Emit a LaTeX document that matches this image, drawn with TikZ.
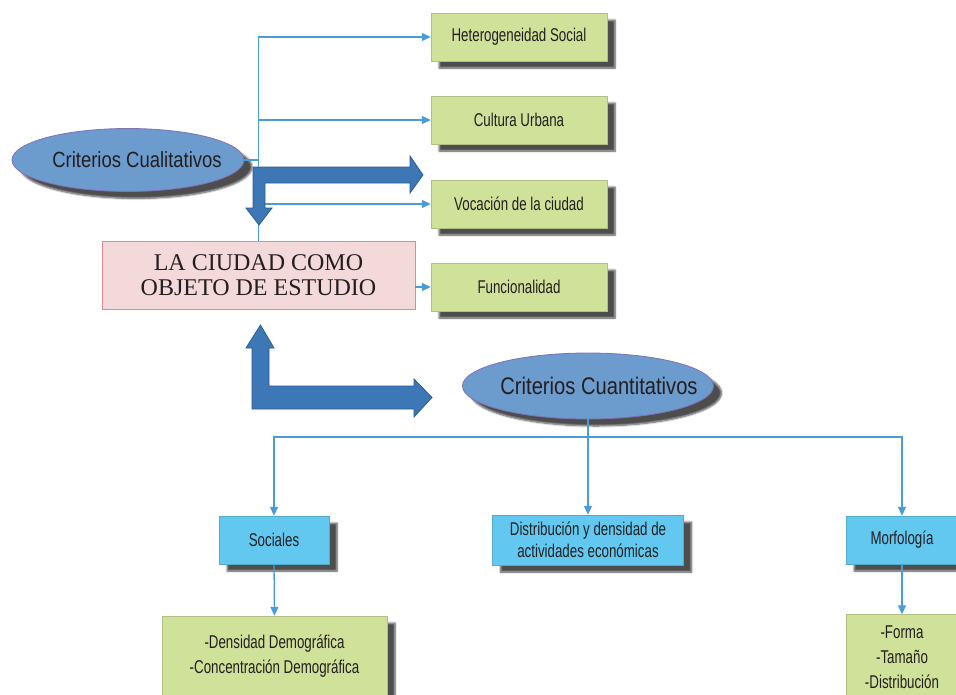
\documentclass[tikz,border=0pt]{standalone}
\usepackage{fontspec}
\setmainfont{Liberation Serif}
\newfontfamily\narrowA[FakeStretch=0.72]{Liberation Sans}
\newfontfamily\narrowB[FakeStretch=0.84]{Liberation Sans}
\usetikzlibrary{shapes.geometric,arrows.meta,shadows.blur}
\definecolor{boxgreen}{HTML}{D0E19A}
\definecolor{boxblue}{HTML}{62C8F0}
\definecolor{ellfill}{HTML}{6C9BCD}
\definecolor{elldraw}{HTML}{8070B4}
\definecolor{mainfill}{HTML}{F4D9DA}
\definecolor{maindraw}{HTML}{E08A8C}
\definecolor{bigfill}{HTML}{3E77B6}
\definecolor{bigdraw}{HTML}{2C5C8E}
\definecolor{lncol}{HTML}{4A9BDA}
\definecolor{txt}{HTML}{231F20}
\tikzset{
  shd/.style={blur shadow={shadow xshift=8pt, shadow yshift=-7pt, shadow blur steps=6, shadow opacity=70}},
  greenbox/.style={fill=boxgreen, draw=boxgreen!85!black, line width=0.4pt, shd, minimum width=176pt, minimum height=48pt, align=center, text=txt, font=\narrowA\fontsize{18.5}{25}\selectfont},
  bluebox/.style={fill=boxblue, draw=boxblue!85!black, line width=0.4pt, shd, minimum height=48pt, align=center, text=txt, font=\narrowA\fontsize{18.5}{22}\selectfont},
  ellnode/.style={ellipse, fill=ellfill, draw=elldraw, line width=0.8pt, inner sep=0pt, text=txt, shd},
  mainbox/.style={fill=mainfill, draw=maindraw, line width=0.9pt, minimum width=313pt, minimum height=68pt, align=center, text=txt, font=\fontsize{24}{25}\selectfont},
  ln/.style={draw=lncol, line width=1.3pt},
  lnar/.style={ln, -{Triangle[length=9pt,width=8pt]}},
  bigar/.style={fill=bigfill, draw=bigdraw, line width=0.8pt, line join=miter},
}
\begin{document}
\begin{tikzpicture}[x=1pt,y=-1pt]
\useasboundingbox (0,0) rectangle (956,694);

% nodes
\node[ellnode, minimum width=232pt, minimum height=63pt, font=\narrowB\fontsize{22}{24}\selectfont] (cual) at (128,160) {\makebox[0pt][c]{\hspace{18pt}Criterios Cualitativos}};
\node[greenbox] (h1) at (519,37) {Heterogeneidad Social};
\node[greenbox] (h2) at (519,120) {Cultura Urbana};
\node[greenbox] (h3) at (519,204) {Vocación de la ciudad};
\node[greenbox] (h4) at (519,287) {Funcionalidad};
\node[mainbox] (main) at (258.5,275) {LA CIUDAD COMO\\OBJETO DE ESTUDIO};

\node[ellnode, minimum width=251pt, minimum height=66pt, font=\narrowB\fontsize{24}{26}\selectfont] (cuan) at (588,386) {\makebox[0pt][c]{\hspace{22pt}Criterios Cuantitativos}};

\node[bluebox, minimum width=110pt] (soc) at (274,540) {Sociales};
\node[bluebox, minimum width=191pt, minimum height=50pt] (dist) at (588,540) {Distribución y densidad de\\actividades económicas};
\node[bluebox, minimum width=112pt] (mor) at (902,540) {Morfología};

\node[greenbox, minimum width=225pt, minimum height=80pt] (dens) at (274.5,656) {-Densidad Demográfica\\-Concentración Demográfica};
\node[greenbox, minimum width=112pt, minimum height=85pt] (form) at (902,657) {-Forma\\-Tamaño\\-Distribución};

% coordinates
\coordinate (j2) at (258,120);
\coordinate (j0) at (258,160);
\coordinate (j3) at (258,204);
\coordinate (bj) at (588,437);

% thin connectors
\draw[lnar] (main.north) |- (h1.west);
\draw[lnar] (j2) -- (h2.west);
\draw[ln] (cual.east) -- (j0);
\draw[lnar] (j3) -- (h3.west);
\draw[lnar] (main.east |- h4.west) -- (h4.west);

\draw[ln] (cuan.south) -- (bj);
\draw[lnar] (bj) -| (soc.north);
\draw[lnar] (bj) -- (dist.north);
\draw[lnar] (bj) -| (mor.north);
\draw[lnar] (soc.south) -- (dens.north);
\draw[lnar] (mor.south) -- (form.north);

% big bent arrows
\draw[bigar] (253,167) -- (410,167) -- (410,156) -- (423,175) -- (410,193) -- (410,183)
  -- (265,183) -- (265,208) -- (272,208) -- (259,225) -- (246,208) -- (253,208) -- cycle;
\draw[bigar] (252,409) -- (414,409) -- (414,417) -- (432,397.5) -- (414,379) -- (414,386)
  -- (269,386) -- (269,348) -- (274,348) -- (260.5,325) -- (246,348) -- (252,348) -- cycle;
\end{tikzpicture}
\end{document}
